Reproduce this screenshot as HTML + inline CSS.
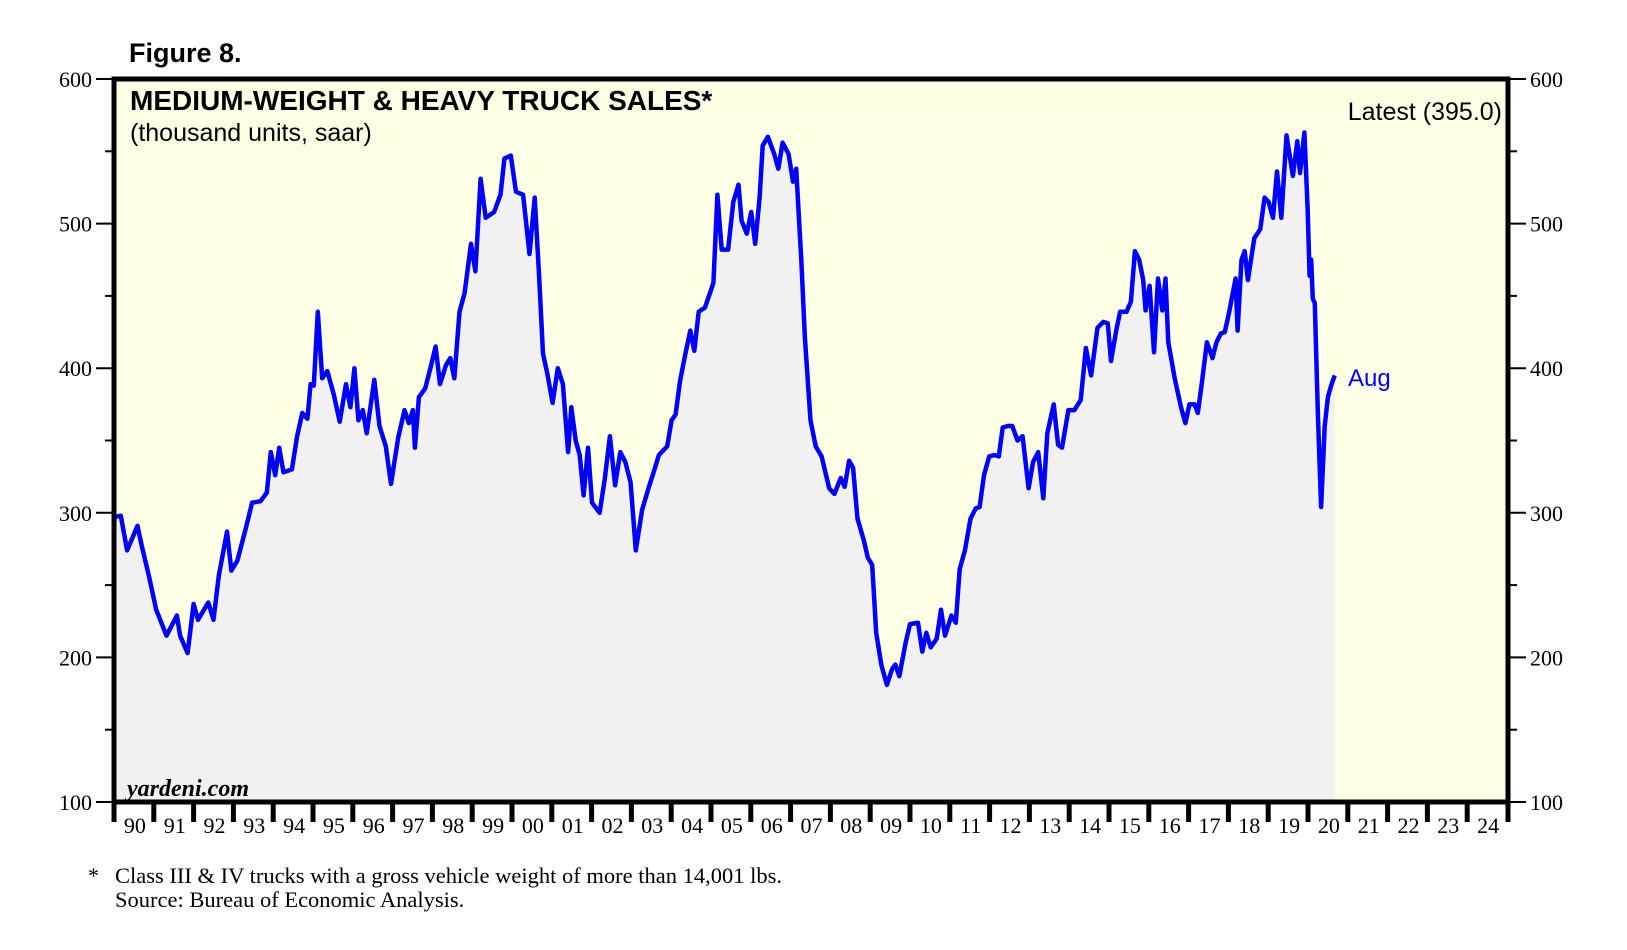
<!DOCTYPE html>
<html><head><meta charset="utf-8"><style>
body{margin:0;background:#fff;width:1627px;height:950px;overflow:hidden}
svg{display:block}
.s{font-family:"Liberation Sans",sans-serif}
.t{font-family:"Liberation Serif",serif}
</style></head><body>
<svg id="c" width="1627" height="950">
<text class="s" x="129" y="62" font-size="27" font-weight="bold">Figure 8.</text>
<rect x="114" y="79" width="1394" height="723" fill="#fefee4"/>
<path id="area" fill="#f1f1f1"/>
<path id="line" fill="none" stroke="#0000ff" stroke-width="4.5" stroke-linejoin="round"/>
<g id="axes"></g>
<rect x="114" y="79" width="1394" height="723" fill="none" stroke="#000" stroke-width="5"/>
<text class="s" x="130" y="110" font-size="28" font-weight="bold">MEDIUM-WEIGHT &amp; HEAVY TRUCK SALES*</text>
<text class="s" x="130" y="141" font-size="25">(thousand units, saar)</text>
<text class="s" x="1502" y="120" font-size="25" text-anchor="end">Latest (395.0)</text>
<text class="s" x="1348" y="386" font-size="24" fill="#0000ff">Aug</text>
<text class="t" x="127" y="796" font-size="24" font-weight="bold" font-style="italic">yardeni.com</text>
<text class="t" x="88" y="883" font-size="22">*</text>
<text class="t" x="115" y="883" font-size="22.5">Class III &amp; IV trucks with a gross vehicle weight of more than 14,001 lbs.</text>
<text class="t" x="115" y="907" font-size="22.5">Source: Bureau of Economic Analysis.</text>
</svg>
<script>
const years=[1990.0,1990.01,1990.17,1990.33,1990.59,1990.69,1990.88,1991.06,1991.32,1991.58,1991.66,1991.85,1992.0,1992.11,1992.37,1992.5,1992.63,1992.84,1992.95,1993.1,1993.31,1993.47,1993.68,1993.84,1993.94,1994.05,1994.15,1994.26,1994.47,1994.6,1994.73,1994.86,1994.94,1995.02,1995.12,1995.23,1995.36,1995.52,1995.67,1995.83,1995.94,1996.04,1996.14,1996.25,1996.35,1996.54,1996.67,1996.83,1996.96,1997.14,1997.3,1997.41,1997.51,1997.56,1997.66,1997.82,1997.95,1998.08,1998.19,1998.34,1998.45,1998.55,1998.68,1998.81,1998.97,1999.08,1999.21,1999.34,1999.55,1999.71,1999.81,1999.97,2000.1,2000.28,2000.44,2000.57,2000.68,2000.78,2000.89,2001.02,2001.15,2001.28,2001.41,2001.49,2001.6,2001.7,2001.8,2001.91,2002.01,2002.2,2002.33,2002.46,2002.59,2002.72,2002.85,2002.98,2003.11,2003.27,2003.43,2003.58,2003.69,2003.9,2004.01,2004.11,2004.22,2004.35,2004.48,2004.58,2004.69,2004.85,2004.95,2005.06,2005.16,2005.27,2005.43,2005.56,2005.69,2005.77,2005.9,2006.01,2006.11,2006.22,2006.3,2006.43,2006.59,2006.69,2006.8,2006.95,2007.06,2007.14,2007.27,2007.36,2007.5,2007.63,2007.78,2007.97,2008.1,2008.26,2008.36,2008.47,2008.57,2008.68,2008.84,2008.94,2009.05,2009.15,2009.28,2009.42,2009.55,2009.63,2009.73,2009.89,2010.0,2010.2,2010.31,2010.41,2010.52,2010.67,2010.78,2010.88,2011.04,2011.15,2011.25,2011.38,2011.52,2011.65,2011.75,2011.86,2011.99,2012.12,2012.23,2012.33,2012.46,2012.57,2012.7,2012.83,2012.98,2013.09,2013.22,2013.35,2013.45,2013.61,2013.72,2013.82,2013.98,2014.13,2014.29,2014.42,2014.55,2014.71,2014.86,2014.97,2015.05,2015.18,2015.28,2015.44,2015.55,2015.65,2015.76,2015.86,2015.92,2016.02,2016.13,2016.23,2016.34,2016.42,2016.49,2016.65,2016.81,2016.92,2017.02,2017.15,2017.23,2017.33,2017.46,2017.6,2017.7,2017.81,2017.91,2018.02,2018.18,2018.23,2018.33,2018.41,2018.49,2018.65,2018.8,2018.91,2019.01,2019.12,2019.22,2019.33,2019.46,2019.62,2019.73,2019.8,2019.91,2019.99,2020.04,2020.08,2020.12,2020.17,2020.25,2020.33,2020.42,2020.5,2020.58,2020.67];
const sales=[278,297,298,274,291,278,256,233,215,229,215,203,237,226,238,226,256,287,260,267,289,307,308,314,342,326,345,328,330,353,369,365,389,388,439,393,398,382,363,389,373,400,364,371,355,392,360,346,320,352,371,362,371,345,380,386,400,415,389,402,407,393,439,452,486,467,531,504,508,520,545,547,522,520,479,518,464,410,396,376,400,389,342,373,350,340,312,345,307,300,323,353,319,342,335,321,274,302,317,330,340,346,364,368,391,409,426,412,439,442,450,459,520,482,482,515,527,502,493,508,486,518,554,560,548,538,556,548,529,538,475,421,364,346,339,317,313,324,318,336,331,296,281,269,264,217,195,181,192,195,187,210,223,224,204,217,207,213,233,215,229,224,261,274,296,303,304,326,339,340,339,359,360,360,350,353,317,335,342,310,355,375,347,345,371,371,378,414,395,428,432,431,405,426,439,439,446,481,475,461,440,457,411,462,440,462,418,393,373,362,375,375,369,389,418,407,418,424,425,439,462,426,475,481,461,490,496,518,515,504,536,504,561,533,557,535,563,511,464,475,448,445,368,304,360,380,388,395];
const yTicks=[100,200,300,400,500,600];
const yMinor=[150,250,350,450,550];
const xLabels=['90','91','92','93','94','95','96','97','98','99','00','01','02','03','04','05','06','07','08','09','10','11','12','13','14','15','16','17','18','19','20','21','22','23','24'];
const X0=114,YPX=39.8,Y0=802,VPX=1.446;
function xs(yr){return X0+(yr-1990)*YPX}
function ys(v){return Y0-(v-100)*VPX}
const NS='http://www.w3.org/2000/svg';
const n=Math.min(years.length,sales.length);
let d='';
for(let i=0;i<n;i++){d+=(i?'L':'M')+xs(years[i]).toFixed(1)+','+ys(sales[i]).toFixed(1)}
document.getElementById('line').setAttribute('d',d);
document.getElementById('area').setAttribute('d',d+'L'+xs(years[n-1]).toFixed(1)+','+Y0+'L'+xs(years[0])+','+Y0+'Z');
const g=document.getElementById('axes');
function mk(tag,attrs){const e=document.createElementNS(NS,tag);for(const k in attrs)e.setAttribute(k,attrs[k]);g.appendChild(e);return e}
yTicks.forEach(v=>{
  const y=ys(v);
  const l1=mk('line',{x1:96,x2:114,y1:y,y2:y,stroke:'#000','stroke-width':2});
  
  
  const l2=mk('line',{x1:1508,x2:1526,y1:y,y2:y,stroke:'#000','stroke-width':2});
  
  
  const t1=mk('text',{x:92,y:y+8,'font-size':22,'text-anchor':'end','font-family':'Liberation Serif, serif'});
  t1.textContent=v;
  
  
  const t2=mk('text',{x:1530,y:y+8,'font-size':22,'font-family':'Liberation Serif, serif'});
  t2.textContent=v;
  
  
});
yMinor.forEach(v=>{
  const y=ys(v);
  const a=mk('line',{x1:105,x2:114,y1:y,y2:y,stroke:'#000','stroke-width':2});
  
  
  const b=mk('line',{x1:1508,x2:1517,y1:y,y2:y,stroke:'#000','stroke-width':2});
  
  
});
xLabels.forEach((lab,i)=>{
  const x=xs(1990+i);
  const tk=mk('line',{x1:x,x2:x,y1:800,y2:822,stroke:'#000','stroke-width':5});
  
  
  const t=mk('text',{x:x+YPX/2+1,y:833,'font-size':22,'text-anchor':'middle','font-family':'Liberation Serif, serif'});
  t.textContent=lab;
  
  
});
const endTk=mk('line',{x1:1508,x2:1508,y1:800,y2:822,stroke:'#000','stroke-width':5});


</script>
</body></html>
